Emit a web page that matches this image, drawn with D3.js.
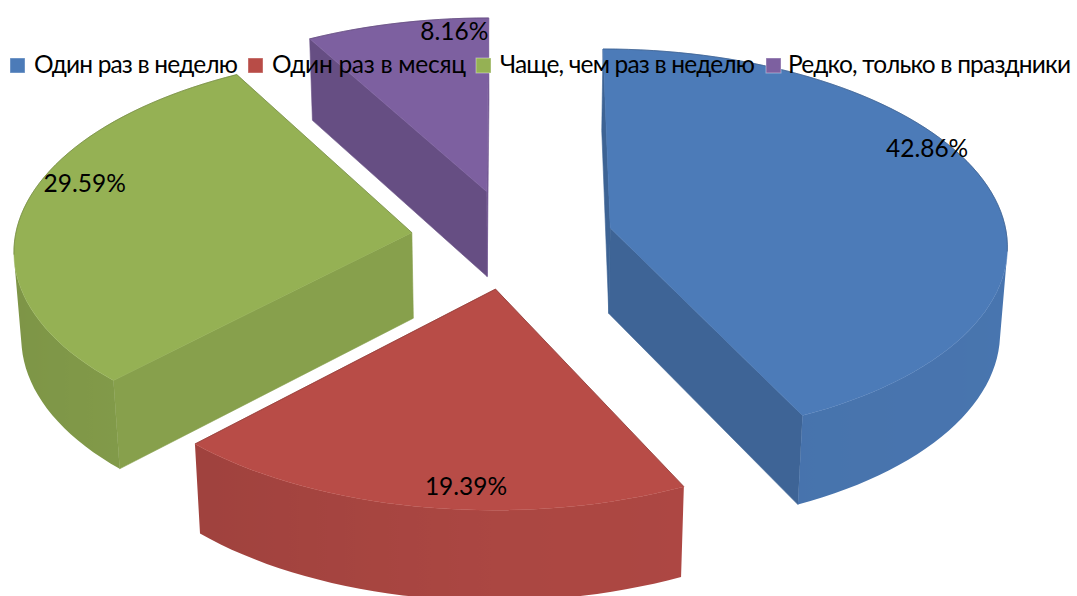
<!DOCTYPE html>
<html>

<head>
	<meta charset="utf-8">
	<title>3D pie</title>
	<script src="https://cdn.jsdelivr.net/npm/d3@7"></script>
	<style>
		html, body { margin: 0; padding: 0; background: #fff; overflow: hidden; }
		text { font-family: "Lato", "Open Sans", sans-serif; fill: #000; }
	</style>
</head>

<body>
	<svg id="chart" width="1077" height="596"></svg>

	<script>
		// values
		const categories = ["Один раз в неделю", "Один раз в месяц", "Чаще, чем раз в неделю", "Редко, только в праздники"];
		const shares = [42.86, 19.39, 29.59, 8.16];
		const colors = ["#4C7BB8", "#B84C47", "#95B154", "#7D60A0"];

		// view settings for the fake 3d projection
		const cx = 512, cy = 239, radiusX = 397, radiusY = 195, depth = 87;
		const persp = 0.08, perspH = 0.015, explode = 0.255;
		const legendLeft = [10, 248, 476, 766];
		const legendWidth = [204, 194, 255, 283];
		// label spot inside each slice: angle in degrees, fraction of radius
		const labelSpot = [[64, 0.93], [184, 0.92], [285.8, 0.88], [354, 0.9]];

		const fontSize = 24.5;

		const svg = d3.select("#chart");
		const defs = svg.append("defs");

		const arcs = d3.pie().sort(null)(shares);

		// x,z in radius units, z goes to the back; h is 0 on top, 1 at the bottom
		function project(x, z, h) {
			const s = 1 / (1 + persp * z + perspH * h);
			return [cx + x * radiusX * s, cy - z * radiusY * s + h * depth * s];
		}

		function shade(nx) {
			return nx < 0 ? 0.93 + 0.09 * nx : 0.93 + 0.02 * nx;
		}

		function darker(c, k) {
			const r = d3.rgb(c);
			return d3.rgb(r.r * k, r.g * k, r.b * k).formatHex();
		}

		const line = d3.line();

		const slices = arcs.map(a => {
			const mid = (a.startAngle + a.endAngle) / 2;
			return {
				a: a, color: colors[a.index],
				ox: explode * Math.sin(mid),
				oz: explode * Math.cos(mid)
			};
		});

		// back slices first
		slices.sort((p, q) => q.oz - p.oz);

		slices.forEach(d => {
			const g = svg.append("g");
			const pt = (t, r, h) => project(d.ox + r * Math.sin(t), d.oz + r * Math.cos(t), h);

			const t0 = d.a.startAngle, t1 = d.a.endAngle;
			const n = Math.ceil((t1 - t0) / (Math.PI / 90));
			const ts = d3.range(n + 1).map(k => t0 + (t1 - t0) * k / n);

			// the two flat cut walls
			const wallStart = [pt(t0, 0, 0), pt(t0, 1, 0), pt(t0, 1, 1), pt(t0, 0, 1)];
			const wallEnd = [pt(t1, 1, 0), pt(t1, 0, 0), pt(t1, 0, 1), pt(t1, 1, 1)];
			const walls = [
				{ p: wallStart, k: shade(-Math.cos(t0)) * 0.96, edge: [pt(t0, 0, 0), pt(t0, 1, 0)] },
				{ p: wallEnd, k: shade(Math.cos(t1)) * 0.96, edge: [pt(t1, 1, 0), pt(t1, 0, 0)] }
			];
			const visibleWalls = walls.filter(w => d3.polygonArea(w.p) > 0);

			g.selectAll("path.wall")
				.data(visibleWalls)
				.join("path")
				.attr("class", "wall")
				.attr("d", w => line(w.p) + "Z")
				.attr("fill", w => darker(d.color, w.k))
				.attr("stroke", w => darker(d.color, w.k))
				.attr("stroke-width", 0.6);

			// rim: only the part that faces the viewer, one shape with a sideways gradient
			const rimTs = ts.filter((t, k) => {
				const next = k < n ? ts[k + 1] : t;
				const prev = k > 0 ? ts[k - 1] : t;
				const a = [pt(prev, 1, 0), pt(next, 1, 0), pt(next, 1, 1), pt(prev, 1, 1)];
				return d3.polygonArea(a) > 0;
			});
			if (rimTs.length > 1) {
				const id = "rim" + d.a.index;
				const xs = rimTs.map(t => pt(t, 1, 0)[0]);
				const x0 = d3.min(xs), x1 = d3.max(xs);
				const stops = rimTs.map((t, k) => ({ off: (xs[k] - x0) / (x1 - x0), c: darker(d.color, shade(Math.sin(t))) }))
					.sort((p, q) => p.off - q.off);
				defs.append("linearGradient")
					.attr("id", id)
					.attr("gradientUnits", "userSpaceOnUse")
					.attr("x1", x0).attr("x2", x1).attr("y1", 0).attr("y2", 0)
					.selectAll("stop")
					.data(stops)
					.join("stop")
					.attr("offset", s => s.off)
					.attr("stop-color", s => s.c);

				const rim = rimTs.map(t => pt(t, 1, 0)).concat(rimTs.slice().reverse().map(t => pt(t, 1, 1)));
				g.append("path")
					.attr("d", line(rim) + "Z")
					.attr("fill", `url(#${id})`);
			}

			// top face
			const top = [pt(0, 0, 0)].concat(ts.map(t => pt(t, 1, 0)));
			g.append("path")
				.attr("d", line(top) + "Z")
				.attr("fill", d.color)
				.attr("stroke", d.color)
				.attr("stroke-width", 0.5);

			// thin dark outline only where no side face lies below the edge
			const backArc = ts.filter(t => !rimTs.includes(t)).map(t => pt(t, 1, 0));
			const edges = walls.filter(w => d3.polygonArea(w.p) <= 0).map(w => w.edge);
			if (backArc.length > 1) edges.push(backArc);
			g.selectAll("path.edge")
				.data(edges)
				.join("path")
				.attr("class", "edge")
				.attr("d", e => line(e))
				.attr("fill", "none")
				.attr("stroke", darker(d.color, 0.75))
				.attr("stroke-width", 0.7);
		});

		// percent labels
		slices.forEach(d => {
			const spot = labelSpot[d.a.index];
			const t = spot[0] * Math.PI / 180;
			const p = project(d.ox + spot[1] * Math.sin(t), d.oz + spot[1] * Math.cos(t), 0);
			svg.append("text")
				.attr("x", p[0])
				.attr("y", p[1])
				.attr("dy", "0.2em")
				.attr("text-anchor", "middle")
				.attr("font-size", fontSize)
				.text(d3.format(".2f")(shares[d.a.index]) + "%");
		});

		// legend
		const legend = svg.append("g")
			.selectAll("g")
			.data(categories)
			.join("g")
			.attr("transform", (d, i) => `translate(${legendLeft[i]},58)`);

		legend.append("rect")
			.attr("width", 15)
			.attr("height", 15)
			.attr("fill", (d, i) => colors[i])
			.attr("stroke", "#fff")
			.attr("stroke-opacity", 0.4);

		legend.append("text")
			.attr("x", (d, i) => i === 3 ? 22 : 24)
			.attr("y", 15)
			.attr("font-size", fontSize)
			.attr("textLength", (d, i) => legendWidth[i])
			.attr("lengthAdjust", "spacing")
			.text(d => d);
	</script>
</body>

</html>
